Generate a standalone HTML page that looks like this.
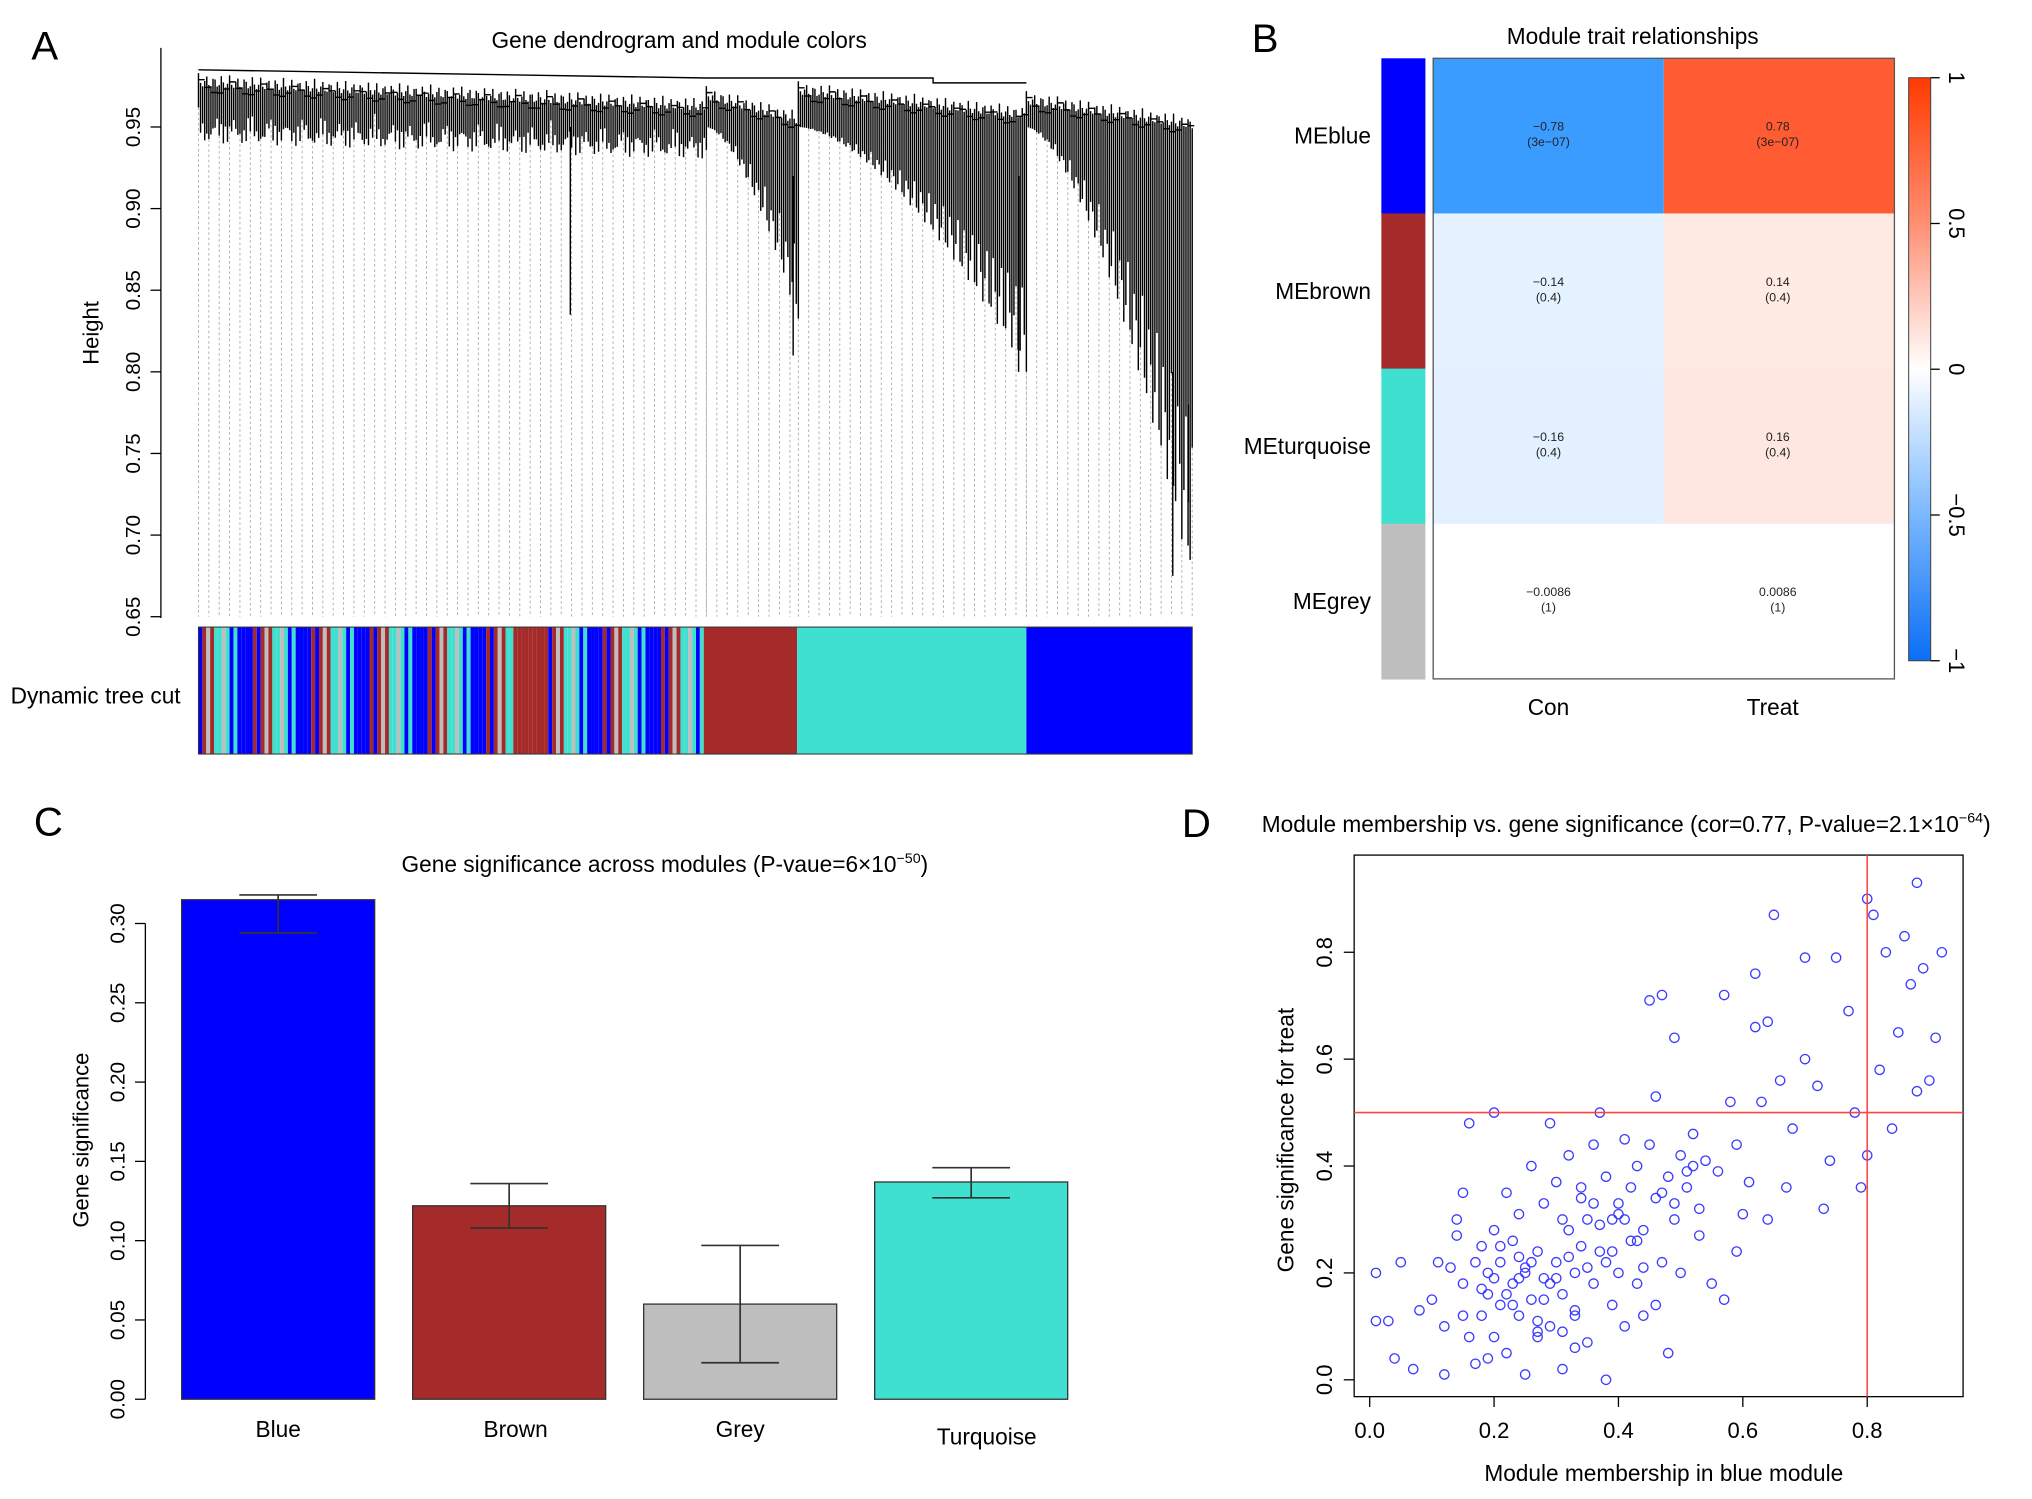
<!DOCTYPE html>
<html><head><meta charset="utf-8"><style>
html,body{margin:0;padding:0;background:#fff}
svg{display:block;font-family:"Liberation Sans",sans-serif}
</style></head><body>
<svg id="s" width="2032" height="1499" viewBox="0 0 1568 1157" xmlns="http://www.w3.org/2000/svg">
<rect width="1568" height="1157" fill="#fff"/>
<!-- Panel A -->
<g id="pa">
<text x="24" y="46" font-size="31">A</text>
<text x="524" y="37" font-size="17.5" text-anchor="middle">Gene dendrogram and module colors</text>
<text transform="translate(76,257) rotate(-90)" font-size="17" text-anchor="middle">Height</text>
<line x1="124" y1="37" x2="124" y2="477" stroke="#000"/>
<g id="aticks"></g>
<g id="dendro"></g>
<g id="cbar"></g>
<rect x="153" y="484" width="767" height="98" fill="none" stroke="#333" stroke-width="0.8"/>
<text x="8" y="543" font-size="17.5">Dynamic tree cut</text>
</g>
<!-- Panel B -->
<g id="pb">
<text x="966" y="40" font-size="31">B</text>
<text x="1260" y="34" font-size="17.5" text-anchor="middle">Module trait relationships</text>
<g id="heat"></g>
<defs><linearGradient id="gr" x1="0" y1="0" x2="0" y2="1">
<stop offset="0" stop-color="#ff3a00"/><stop offset="0.25" stop-color="#ff8f73"/><stop offset="0.5" stop-color="#ffffff"/><stop offset="0.75" stop-color="#7ab8ff"/><stop offset="1" stop-color="#0a6ef5"/></linearGradient></defs>
<rect x="1473" y="60" width="17" height="450" fill="url(#gr)" stroke="#444" stroke-width="0.8"/>
<g id="cticks"></g>
</g>
<!-- Panel C -->
<g id="pc">
<text x="26" y="645" font-size="31">C</text>
<text x="513" y="673" font-size="17.5" text-anchor="middle">Gene significance across modules (P-vaue=6×10<tspan dy="-7" font-size="11">−50</tspan><tspan dy="7">)</tspan></text>
<text transform="translate(68,880) rotate(-90)" font-size="17" text-anchor="middle">Gene significance</text>
<g id="bars"></g>
</g>
<!-- Panel D -->
<g id="pd">
<text x="912" y="646" font-size="31">D</text>
<text x="1255" y="642" font-size="17.5" text-anchor="middle">Module membership vs. gene significance (cor=0.77, P-value=2.1×10<tspan dy="-7" font-size="11">−64</tspan><tspan dy="7">)</tspan></text>
<text x="1284" y="1143" font-size="17.5" text-anchor="middle">Module membership in blue module</text>
<text transform="translate(998,880) rotate(-90)" font-size="17.5" text-anchor="middle">Gene significance for treat</text>
<rect x="1045" y="660" width="470" height="418" fill="none" stroke="#000"/>
<g id="scat"></g>
</g>
</svg>
<script>
const NS="http://www.w3.org/2000/svg";
function mk(p,t,a){const e=document.createElementNS(NS,t);for(const k in a)e.setAttribute(k,a[k]);p.appendChild(e);return e;}
function tx(p,x,y,s,size,anchor,rot){const e=mk(p,'text',{x:x,y:y,'font-size':size,'text-anchor':anchor||'middle'});if(rot)e.setAttribute('transform','rotate(-90 '+x+' '+y+')');e.textContent=s;return e;}

// ---------- Panel A ----------
const heightTicks=[0.65,0.70,0.75,0.80,0.85,0.90,0.95];
const hY=v=>476-(v-0.65)/0.05*63;
const at=document.getElementById('aticks');
heightTicks.forEach(v=>{mk(at,'line',{x1:116,y1:hY(v),x2:124,y2:hY(v),stroke:'#000'});
 const t=tx(at,108,hY(v),v.toFixed(2),16,'middle',true);
 
 });
// dendrogram clusters: [x0,x1,mergeHeight,leafMin,leafMax]
const clusters=[[153,545,0.983,0.94,0.962],[545,616,0.975,0.83,0.95],[616,792,0.978,0.80,0.95],[792,920,0.972,0.67,0.95]];
const dg=document.getElementById('dendro');


let d='',g='';
clusters.forEach((c,ci)=>{
 const [x0,x1,mh,lmin,lmax]=c;const n=Math.floor((x1-x0)/1.6);
 for(let i=0;i<=n;i++){const x=x0+i*(x1-x0)/n;const f=i/n;
  let leaf;
  if(ci==0){leaf=lmax-0.012*Math.abs(Math.sin(i*1.7))-0.01*Math.abs(Math.sin(i*0.37))-0.01*f;}
  else{leaf=lmax-(lmax-lmin)*Math.pow(f,1.6)*(0.6+0.4*Math.abs(Math.sin(i*0.9)));}
  const top=mh-0.015*f-0.008*Math.abs(Math.sin(i*2.3));
  d+=`M${x.toFixed(1)} ${hY(top).toFixed(1)}V${hY(leaf).toFixed(1)}`;
  if(i%5==0) g+=`M${x.toFixed(1)} ${hY(leaf).toFixed(1)}V476`;
  if(i%3==0) d+=`M${x.toFixed(1)} ${hY(top-0.004).toFixed(1)}h4.8`;
 }
});
d+=`M440 ${hY(0.95)}V${hY(0.835)}M612 ${hY(0.92)}V${hY(0.81)}M786 ${hY(0.92)}V${hY(0.80)}M905 ${hY(0.80)}V${hY(0.675)}M917 ${hY(0.78)}V${hY(0.72)}`;
d+=`M153 ${hY(0.985)}L545 ${hY(0.98)}H720V${hY(0.977)}H792`;
mk(dg,'path',{d:g,stroke:'#aaa','stroke-width':0.7,'stroke-dasharray':'2,2',fill:'none'});
mk(dg,'path',{d:d,stroke:'#000','stroke-width':1.1,fill:'none'});
// color bar
const cb=document.getElementById('cbar');


const stripeCols=['#0000ff','#40e0d0','#a52a2a','#0000ff','#bebebe','#0000ff','#40e0d0','#a52a2a','#0000ff','#40e0d0'];
for(let x=153,i=0;x<543;x+=3,i++){const c=(x>395&&x<420)?'#a52a2a':stripeCols[(i*7+Math.floor(i/3))%stripeCols.length];
 mk(cb,'rect',{x:x,y:484,width:3,height:98,fill:c});}
const modBlocks=[[543,615,'#a52a2a'],[615,792,'#40e0d0'],[792,920,'#0000ff']];
modBlocks.forEach(b=>mk(cb,'rect',{x:b[0],y:484,width:b[1]-b[0],height:98,fill:b[2]}));

// ---------- Panel B ----------
const modules=['MEblue','MEbrown','MEturquoise','MEgrey'];
const moduleColors=['#0000ff','#a52a2a','#40e0d0','#bebebe'];
const traits=['Con','Treat'];
const corCon=[-0.78,-0.14,-0.16,-0.0086];
const corTreat=[0.78,0.14,0.16,0.0086];
const pvals=['(3e−07)','(0.4)','(0.4)','(1)'];
function corColor(v){const a=Math.min(1,Math.abs(v)/0.78);
 const base=v<0?[58,156,255]:[255,92,51];
 if(Math.abs(v)<0.02)return '#ffffff';
 const k=Math.abs(v)<0.5?Math.abs(v)/0.14*0.13:a;
 return `rgb(${Math.round(255+(base[0]-255)*k)},${Math.round(255+(base[1]-255)*k)},${Math.round(255+(base[2]-255)*k)})`;}
const hm=document.getElementById('heat');
const rowH=119.75,hx0=1106,colW=178,hy0=45;
modules.forEach((m,r)=>{
 const cr=mk(hm,'rect',{x:1066,y:hy0+r*rowH,width:34,height:rowH+0.5,fill:moduleColors[r]});
 
 
 const l=tx(hm,1058,hy0+r*rowH+rowH/2+6,m,17.5,'end');
 
 
 [corCon,corTreat].forEach((arr,c)=>{
  const cell=mk(hm,'rect',{x:hx0+c*colW,y:hy0+r*rowH,width:colW,height:rowH+0.5,fill:corColor(arr[r])});
  
  
  const cx=hx0+c*colW+colW/2+(c?-1:0),cy=hy0+r*rowH+rowH/2;
  const v=arr[r];const s=(v<0?'−':'')+Math.abs(v);
  tx(hm,cx,cy-4,s,9.5,'middle').setAttribute('fill','#222');
  tx(hm,cx,cy+8,pvals[r],9.5,'middle').setAttribute('fill','#222');
 });
});
mk(hm,'rect',{x:hx0,y:hy0,width:2*colW,height:4*rowH,fill:'none',stroke:'#555','stroke-width':1});
traits.forEach((t,c)=>{const e=tx(hm,c?1368:1195,552,t,17.5,'middle');
 
 });
const scaleTicks=[1,0.5,0,-0.5,-1];
const ct=document.getElementById('cticks');
scaleTicks.forEach(v=>{const y=285-v*225;
 mk(ct,'line',{x1:1490,y1:y,x2:1497,y2:y,stroke:'#000'});
 const e=tx(ct,1522,y,(v<0?'−':'')+Math.abs(v),17,'middle',true);
 e.setAttribute('transform','rotate(90 1510 '+y+')');e.setAttribute('x',1510);e.setAttribute('y',y+6);
 
 });

// ---------- Panel C ----------
const barCats=['Blue','Brown','Grey','Turquoise'];
const barVals=[0.315,0.122,0.060,0.137];
const errLo=[0.294,0.108,0.023,0.127];
const errHi=[0.318,0.136,0.097,0.146];
const barColors=['#0000ff','#a52a2a','#bebebe','#40e0d0'];
const gsTicks=[0,0.05,0.10,0.15,0.20,0.25,0.30];
const cY=v=>1080-v/0.05*61.2;
const bx=i=>140+i*178.3;
const bg=document.getElementById('bars');
mk(bg,'line',{x1:112,y1:cY(0),x2:112,y2:cY(0.3),stroke:'#000'});
gsTicks.forEach(v=>{mk(bg,'line',{x1:104,y1:cY(v),x2:112,y2:cY(v),stroke:'#000'});
 const e=tx(bg,96,cY(v),v.toFixed(2),16,'middle',true);
 
 });
barCats.forEach((c,i)=>{const x=bx(i);
 const r=mk(bg,'rect',{x:x,y:cY(barVals[i]),width:149,height:cY(0)-cY(barVals[i]),fill:barColors[i],stroke:'#333','stroke-width':1});
 
 
 const cx=x+74.5;
 mk(bg,'path',{d:`M${cx} ${cY(errLo[i])}V${cY(errHi[i])}M${cx-30} ${cY(errLo[i])}H${cx+30}M${cx-30} ${cY(errHi[i])}H${cx+30}`,stroke:'#333','stroke-width':1.3,fill:'none'});
 const l=tx(bg,cx+(i==1?5:i==3?12:0),i==3?1115:1109,c,17.5,'middle');
 
 });

// ---------- Panel D ----------
const mm=[0.01,0.01,0.03,0.05,0.04,0.07,0.08,0.10,0.11,0.12,0.12,0.13,0.14,0.15,0.15,0.16,0.16,0.17,0.17,0.18,0.18,0.19,0.19,0.20,0.20,0.20,0.21,0.21,0.22,0.22,0.23,0.23,0.24,0.24,0.25,0.25,0.26,0.26,0.27,0.27,0.28,0.28,0.29,0.29,0.30,0.30,0.31,0.31,0.32,0.32,0.33,0.33,0.34,0.34,0.35,0.35,0.36,0.36,0.37,0.37,0.38,0.38,0.39,0.39,0.40,0.40,0.41,0.41,0.42,0.42,0.43,0.43,0.44,0.44,0.45,0.45,0.46,0.46,0.47,0.47,0.48,0.48,0.49,0.49,0.50,0.50,0.51,0.52,0.53,0.54,0.55,0.56,0.57,0.57,0.58,0.59,0.60,0.61,0.62,0.63,0.64,0.64,0.65,0.66,0.67,0.68,0.70,0.70,0.72,0.73,0.74,0.75,0.77,0.78,0.79,0.80,0.80,0.81,0.82,0.83,0.84,0.85,0.86,0.87,0.88,0.88,0.89,0.90,0.91,0.92,0.62,0.59,0.53,0.27,0.24,0.33,0.35,0.44,0.46,0.15,0.19,0.28,0.31,0.39,0.41,0.52,0.36,0.30,0.22,0.26,0.14,0.18,0.21,0.23,0.25,0.29,0.32,0.34,0.37,0.38,0.40,0.43,0.47,0.49,0.51,0.27,0.33,0.20,0.24,0.31];
const gs=[0.20,0.11,0.11,0.22,0.04,0.02,0.13,0.15,0.22,0.01,0.10,0.21,0.30,0.35,0.18,0.08,0.48,0.22,0.03,0.12,0.25,0.20,0.16,0.50,0.08,0.28,0.14,0.22,0.35,0.05,0.18,0.26,0.12,0.31,0.20,0.01,0.40,0.15,0.24,0.08,0.19,0.33,0.48,0.10,0.22,0.37,0.16,0.02,0.28,0.42,0.20,0.12,0.34,0.25,0.07,0.30,0.18,0.44,0.50,0.24,0.00,0.38,0.14,0.30,0.20,0.33,0.45,0.10,0.26,0.36,0.18,0.40,0.28,0.12,0.44,0.71,0.34,0.53,0.22,0.72,0.38,0.05,0.30,0.64,0.42,0.20,0.36,0.46,0.32,0.41,0.18,0.39,0.72,0.15,0.52,0.24,0.31,0.37,0.76,0.52,0.67,0.30,0.87,0.56,0.36,0.47,0.79,0.60,0.55,0.32,0.41,0.79,0.69,0.50,0.36,0.90,0.42,0.87,0.58,0.80,0.47,0.65,0.83,0.74,0.93,0.54,0.77,0.56,0.64,0.80,0.66,0.44,0.27,0.11,0.19,0.06,0.21,0.21,0.14,0.12,0.04,0.15,0.30,0.24,0.30,0.40,0.33,0.19,0.16,0.22,0.27,0.17,0.25,0.14,0.21,0.18,0.23,0.36,0.29,0.22,0.31,0.26,0.35,0.33,0.39,0.09,0.13,0.19,0.23,0.09];
const xTicks=[0,0.2,0.4,0.6,0.8];
const yTicks=[0,0.2,0.4,0.6,0.8];
const sX=v=>1057+v*480, sY=v=>1065-v*412.5;
const sg=document.getElementById('scat');
xTicks.forEach(v=>{mk(sg,'line',{x1:sX(v),y1:1078,x2:sX(v),y2:1086,stroke:'#000'});
 const e=tx(sg,sX(v),1110,v.toFixed(1),17,'middle');
 
 });
yTicks.forEach(v=>{mk(sg,'line',{x1:1037,y1:sY(v),x2:1045,y2:sY(v),stroke:'#000'});
 const e=tx(sg,1028,sY(v),v.toFixed(1),17,'middle',true);
 
 });
mm.forEach((v,i)=>{const c=mk(sg,'circle',{cx:sX(v),cy:sY(gs[i]),r:3.6,fill:'none',stroke:'#3b3bff','stroke-width':1});
 
 });
const vl=mk(sg,'line',{x1:sX(0.8),y1:660,x2:sX(0.8),y2:1078,stroke:'#ff4444','stroke-width':1.2});


const hl=mk(sg,'line',{x1:1045,y1:sY(0.5),x2:1515,y2:sY(0.5),stroke:'#ff4444','stroke-width':1.2});


</script>
</body></html>
